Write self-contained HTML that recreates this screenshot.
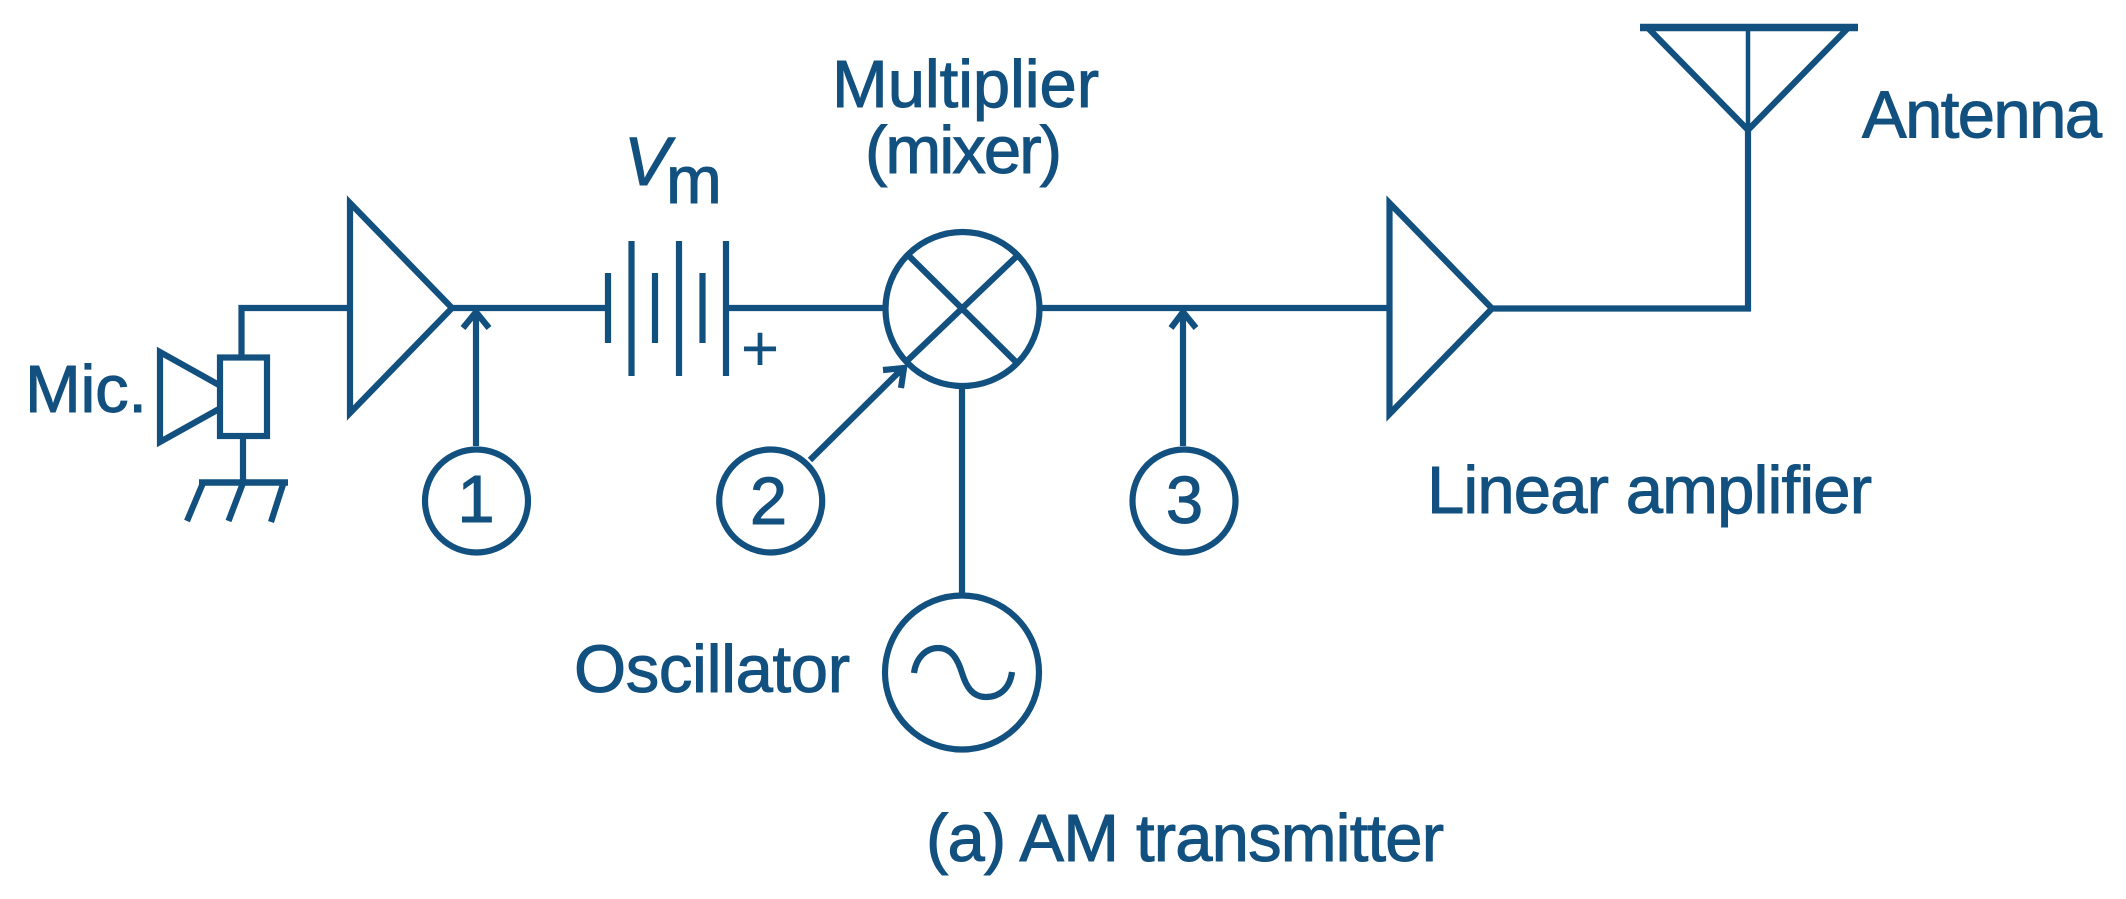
<!DOCTYPE html>
<html>
<head>
<meta charset="utf-8">
<style>
html,body{margin:0;padding:0;background:#fff;width:2126px;height:899px;overflow:hidden}
svg{display:block}
text{font-family:"Liberation Sans",sans-serif;font-size:67px;fill:#12507f;stroke:#12507f;stroke-width:1}
</style>
</head>
<body>
<svg width="2126" height="899" viewBox="0 0 2126 899" xmlns="http://www.w3.org/2000/svg">
<g fill="none" stroke="#12507f" stroke-width="6.2" stroke-linejoin="miter" stroke-miterlimit="12">
  <!-- mic -->
  <rect x="220" y="357.5" width="47" height="78.5"/>
  <path d="M219 385 L160 352 V442 L219 409"/>
  <path d="M241.5 357 V308 H350"/>
  <path d="M243 436 V482"/>
  <path d="M199 482.5 H288" stroke-width="6.5"/>
  <path d="M203 483 L187 521 M243 483 L228.5 521 M283.5 483 L271 522"/>
  <!-- amp 1 -->
  <path d="M350 203 V413 L452 308 Z"/>
  <path d="M449 308 H608"/>
  <!-- arrow 1 -->
  <path d="M476 446 V313 M463 328 L476 312 L489 328"/>
  <circle cx="476.5" cy="501" r="51.5"/>
  <!-- battery -->
  <path d="M608 273 V343 M631.5 241 V376 M655 273 V343 M679 241 V376 M702.5 273 V343 M726 241 V376"/>
  <path d="M726 308 H884"/>
  <!-- mixer -->
  <circle cx="962.5" cy="309" r="77"/>
  <path d="M907 254 L1017 363 M1017 256 L908 360"/>
  <path d="M1042 308 H1389"/>
  <!-- arrow 2 -->
  <path d="M810 460 L902 369 M883 370 L904 368 L901 388"/>
  <circle cx="770.7" cy="501" r="51.5"/>
  <!-- oscillator -->
  <path d="M962 389 V594"/>
  <circle cx="962" cy="672.5" r="77"/>
  <path d="M914 673 C916 658 926 648 938 648 C952 648 958 660 962 673 C966 686 972 697 986 697 C1000 697 1010 688 1012 672"/>
  <!-- arrow 3 -->
  <path d="M1183 446 V313 M1171 328 L1183 312 L1196 328"/>
  <circle cx="1184" cy="501" r="51.5"/>
  <!-- amp 2 -->
  <path d="M1389.5 203 V414 L1492 308.5 Z"/>
  <path d="M1489 308.5 H1751"/>
  <!-- antenna -->
  <path d="M1748 311 V128"/>
  <path d="M1748 130 V27" stroke-width="4.5"/>
  <path d="M1647.5 27.5 H1848.5 L1748 130 Z"/>
  <path d="M1640 27.5 H1858" stroke-width="7.5"/>
</g>
<text x="25" y="412" textLength="122">Mic.</text>
<text x="832" y="107" textLength="267">Multiplier</text>
<text x="865" y="173" textLength="197">(mixer)</text>
<text x="624" y="185" font-style="italic" style="font-size:69px">V</text>
<text x="666" y="203">m</text>
<text x="760" y="371" text-anchor="middle" style="font-size:66px;stroke-width:0">+</text>
<text x="476" y="522" text-anchor="middle">1</text>
<text x="768.5" y="524" text-anchor="middle">2</text>
<text x="1184.5" y="523" text-anchor="middle">3</text>
<text x="1862" y="137.5" textLength="240">Antenna</text>
<text x="1427" y="513" textLength="445">Linear amplifier</text>
<text x="574" y="692" textLength="276">Oscillator</text>
<text x="926" y="861" textLength="518">(a) AM transmitter</text>
</svg>
</body>
</html>
